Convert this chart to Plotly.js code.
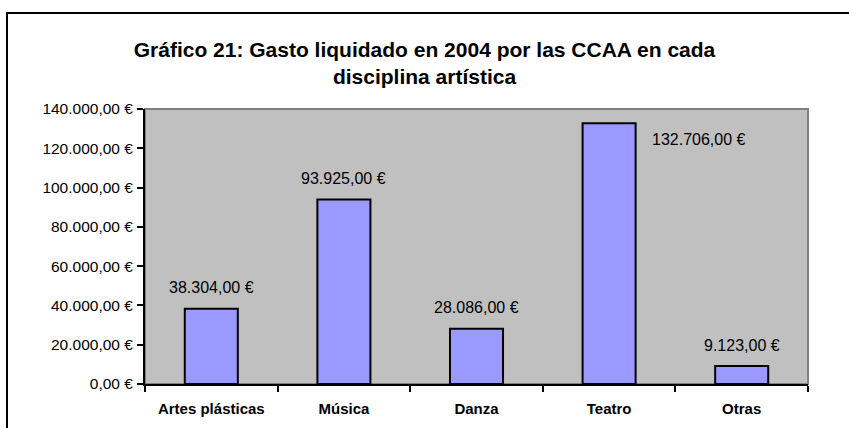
<!DOCTYPE html>
<html>
<head>
<meta charset="utf-8">
<script src="https://cdn.plot.ly/plotly-3.0.1.min.js"></script>
<style>
  html, body { margin: 0; padding: 0; background: #fff; overflow: hidden; }
  #chart { width: 849px; height: 428px; }
</style>
</head>
<body>
<div id="chart"></div>
<script>
const categories = ["Artes plásticas", "Música", "Danza", "Teatro", "Otras"];
const values = [38304, 93925, 28086, 132706, 9123];
const yTickValues = [0, 20000, 40000, 60000, 80000, 100000, 120000, 140000];
const titleText = "Gráfico 21: Gasto liquidado en 2004 por las CCAA en cada<br>disciplina artística";

function fmtEuro(v) {
  const fixed = v.toFixed(2);
  let [intPart, dec] = fixed.split(".");
  intPart = intPart.replace(/\B(?=(\d{3})+(?!\d))/g, ".");
  return intPart + "," + dec + " €";
}

const W = 849, H = 428;
const M = { l: 145, r: 41, t: 109, b: 44 };
const PW = W - M.l - M.r, PH = H - M.t - M.b;
const px2paperX = p => (p - M.l) / PW;
const px2paperY = p => (H - M.b - p) / PH;

const yMax = yTickValues[yTickValues.length - 1];
const FONT = "Liberation Sans, Arial, sans-serif";

const trace = {
  type: "bar",
  x: categories,
  y: values,
  marker: { color: "#9999FF", line: { color: "#000000", width: 2 } },
  hoverinfo: "skip"
};

const annotations = categories.map((c, i) => {
  const v = values[i];
  const above = v < yMax * 0.9;
  return {
    x: c, y: v, xref: "x", yref: "y",
    text: fmtEuro(v),
    showarrow: false,
    font: { family: FONT, size: 16, color: "#000" },
    xanchor: "center", yanchor: "middle",
    xshift: above ? 0 : 90,
    yshift: above ? 21 : -16
  };
});

const fx = p => px2paperX(p).toFixed(5);
const fy = p => px2paperY(p).toFixed(5);
const framePath = "M " + fx(W + 10) + "," + fy(13) + " L " + fx(7) + "," + fy(13) +
                  " L " + fx(7) + "," + fy(H + 10);

const layout = {
  width: W, height: H,
  margin: { l: M.l, r: M.r, t: M.t, b: M.b, pad: 0 },
  paper_bgcolor: "#FFFFFF",
  plot_bgcolor: "#C0C0C0",
  showlegend: false,
  bargap: 0.6,
  font: { family: FONT, color: "#000" },
  title: {
    text: titleText,
    font: { family: FONT, size: 21, color: "#000", weight: "bold" },
    x: 0.5, xref: "container", xanchor: "center",
    y: 1 - 57 / H, yref: "container", yanchor: "middle"
  },
  xaxis: {
    type: "category",
    showline: true, linecolor: "#000", linewidth: 2,
    ticks: "outside", tickson: "boundaries", ticklen: 6, tickwidth: 2, tickcolor: "#000",
    ticklabelstandoff: 10,
    tickfont: { family: FONT, size: 15, color: "#000", weight: "bold" },
    showgrid: false, zeroline: false, fixedrange: true
  },
  yaxis: {
    range: [0, yMax],
    tickmode: "array",
    tickvals: yTickValues,
    ticktext: yTickValues.map(fmtEuro),
    showline: true, linecolor: "#000", linewidth: 2,
    ticks: "outside", ticklen: 6, tickwidth: 2, tickcolor: "#000",
    ticklabelstandoff: 1,
    tickfont: { family: FONT, size: 15.5, color: "#000" },
    showgrid: false, zeroline: false, fixedrange: true
  },
  shapes: [
    { type: "rect", xref: "paper", yref: "paper", x0: 0, x1: 1, y0: 0, y1: 1,
      line: { color: "#808080", width: 2 }, layer: "below" },
    { type: "path", xref: "paper", yref: "paper", path: framePath,
      fillcolor: "rgba(0,0,0,0)", line: { color: "#000", width: 2 } }
  ],
  annotations: annotations
};

Plotly.newPlot("chart", [trace], layout, { displayModeBar: false, staticPlot: true });
</script>
</body>
</html>
